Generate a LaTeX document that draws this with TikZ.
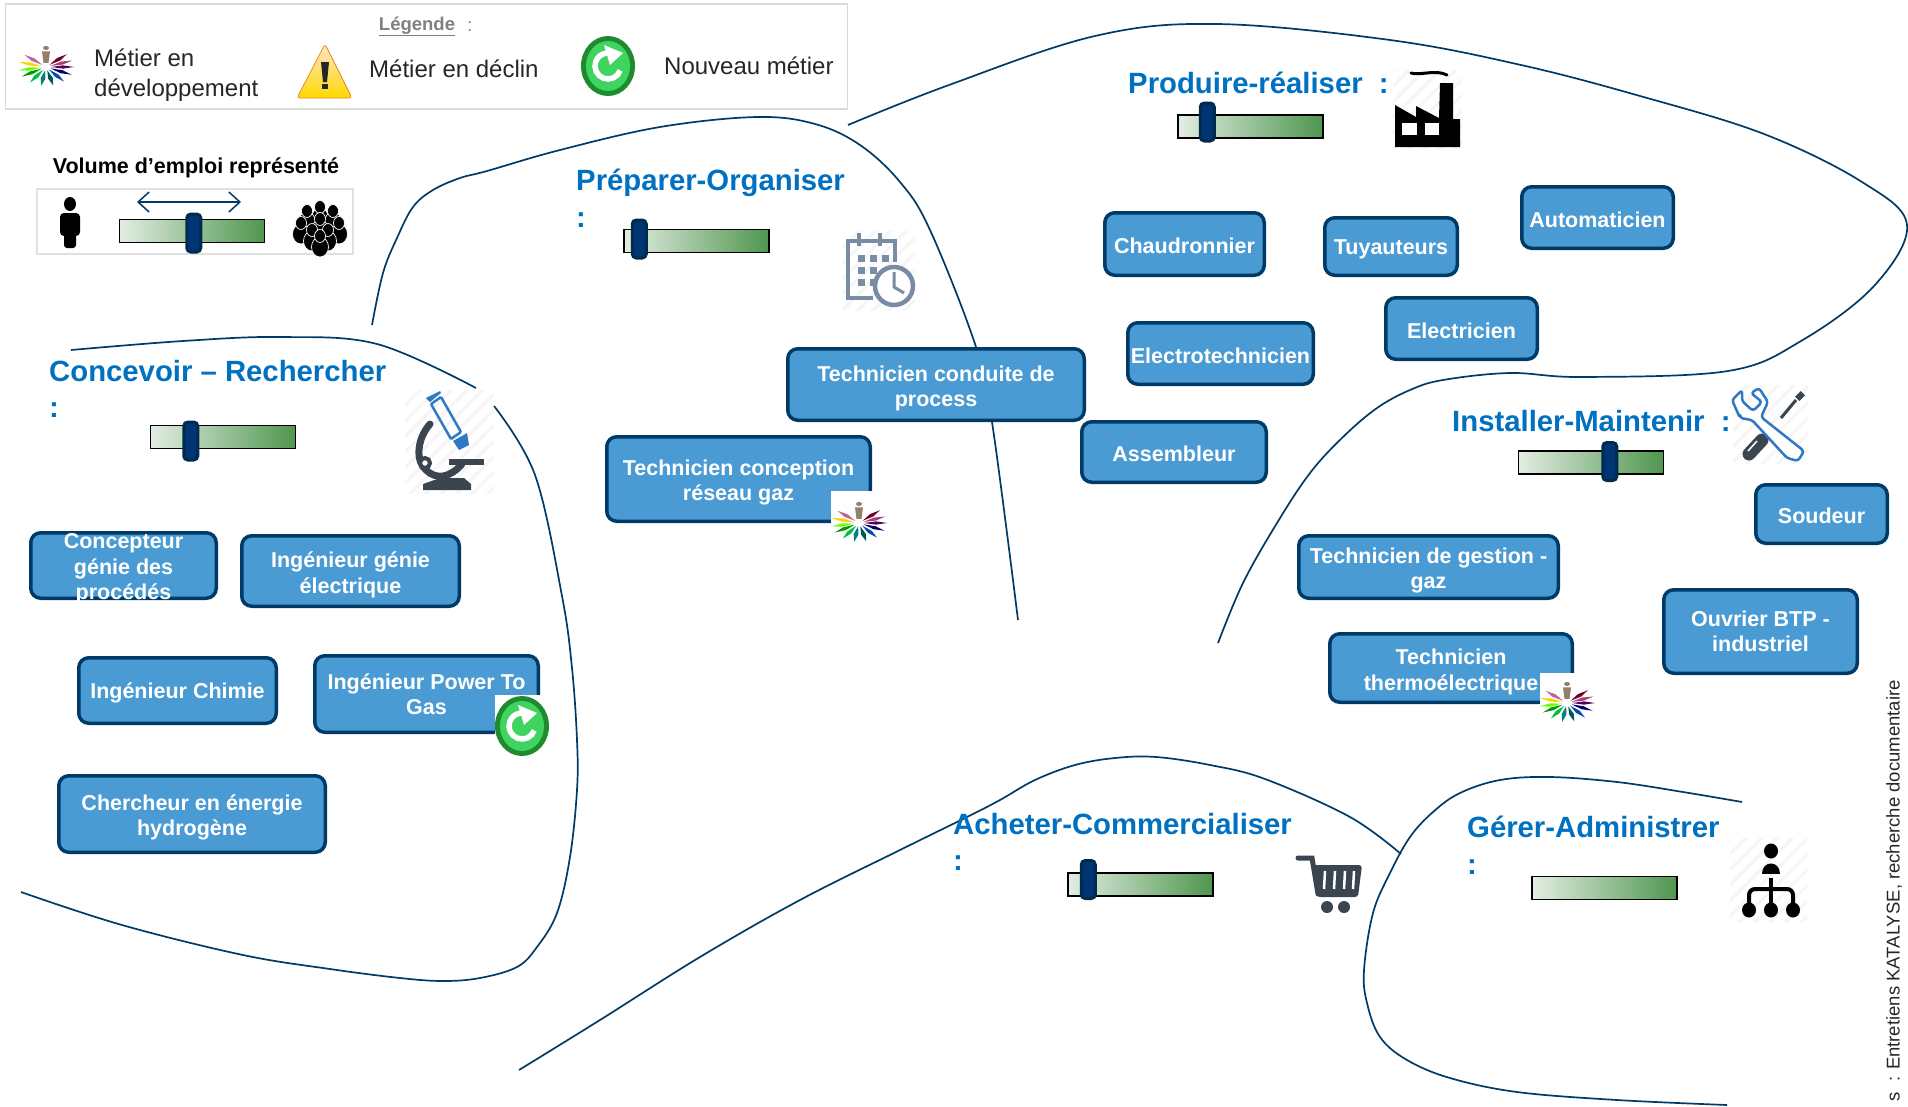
\documentclass[tikz,border=0pt]{standalone}
\usepackage{fontspec}
\setmainfont{Liberation Sans}
\usetikzlibrary{positioning,arrows.meta,patterns.meta}

\definecolor{navyline}{HTML}{003A66}
\definecolor{jobblue}{HTML}{4A9BD4}
\definecolor{titleblue}{HTML}{0070C0}
\definecolor{slate}{HTML}{3A4550}
\definecolor{calgray}{HTML}{7A8CA3}
\definecolor{scopeblue}{HTML}{2F78C4}
\definecolor{ringgreen}{HTML}{1E8B2E}
\definecolor{coregreen}{HTML}{3FD45F}
\definecolor{barlight}{HTML}{E3EDE3}
\definecolor{bardark}{HTML}{4F964F}

\newcommand{\jobstrut}{\vrule width 0pt height 23pt}

\tikzset{
	zoneline/.style={draw=navyline,line width=1.7pt},
	jobtext/.style={text=white,align=center,inner sep=0pt,font=\fontsize{21.5}{25.5}\selectfont\bfseries,execute at begin node={\vrule width 0pt height 20pt}},
	job/.style={jobtext,draw=navyline,fill=jobblue,line width=3.5pt,rounded corners=10pt},
	zonetitle/.style={text=titleblue,align=left,anchor=north west,inner sep=0pt,font=\fontsize{29.3}{36.5}\selectfont\bfseries},
	legendtext/.style={text=black!85,align=left,anchor=west,inner sep=0pt,font=\fontsize{24}{30}\selectfont},
	volumebar/.style={draw=black,line width=1.5pt,left color=barlight,right color=bardark,minimum width=145pt,minimum height=23pt,inner sep=0pt},
	volumegrip/.style={draw=navyline!75!black,fill=navyline!90!blue,line width=3pt,rounded corners=4pt,minimum width=14pt,minimum height=38pt,inner sep=0pt},
	iconhatch/.style={pattern={Lines[angle=45,distance=11pt,line width=3pt]},pattern color=black!4},
	iconback/.style={fill=white},
	growthicon/.pic={
		\begin{scope}[yscale=.68]
			\foreach \ang/\petal in {0/violet!70!black,24/blue!40!black,50/blue!40!teal,75/teal!70!black,100/teal,125/green!50!teal,150/green!60!black,170/green!60!yellow,195/yellow!70!orange,220/magenta!50!gray,318/purple!60!black,340/magenta!60!black} {
				\fill[\petal,rotate=-\ang] (5,0) -- (17,-2.4) -- (28,0) -- (17,2.4) -- cycle;
			}
			\fill[gray!70!brown] (0,-28) circle (3pt);
			\fill[gray!70!brown] (-4,-23) -- (4,-23) -- (2.5,-6) -- (-2.5,-6) -- cycle;
		\end{scope}
	},
	newicon/.pic={
		\fill[ringgreen] (0,0) ellipse (27pt and 30pt);
		\fill[coregreen] (0,0) ellipse (22pt and 25pt);
		\draw[white,line width=5.5pt] (20:13) arc (20:305:13);
		\fill[white] (-4,-21) -- (15,-13) -- (2,-1) -- cycle;
	}
}

\begin{document}
\begin{tikzpicture}[x=1pt,y=-1pt,on grid]
	\useasboundingbox (0,0) rectangle (1908,1106);

	% zones
	\draw[zoneline] plot[smooth,tension=.6] coordinates {(71,350) (183,341) (280,337) (377,344) (476,388)};
	\draw[zoneline] plot[smooth,tension=.6] coordinates {(494,406) (535,475) (562,596) (572,668) (577,740) (577,790) (570,857) (557,913) (537,947) (517,967) (480,978) (443,981) (400,978) (330,969) (243,955) (122,925) (21,892)};
	\draw[zoneline] plot[smooth,tension=.6] coordinates {(372,325) (383,273) (397,238) (413,207) (433,190) (460,178) (487,171) (560,150) (660,127) (757,117) (815,124) (860,145) (900,182) (930,230) (976,347) (992,422) (1018,620)};
	\draw[zoneline] plot[smooth,tension=.6] coordinates {(848,125) (949,85) (1095,36) (1217,24) (1390,40) (1521,65) (1640,96) (1764,134) (1862,182) (1907,225) (1874,286) (1801,341) (1728,371) (1582,377) (1510,373) (1443,380) (1410,390) (1377,408) (1343,437) (1310,473) (1277,523) (1243,583) (1218,643)};
	\draw[zoneline] plot[smooth,tension=.6] coordinates {(519,1070) (600,1020) (700,957) (800,900) (900,850) (967,817) (1000,800) (1035,780) (1075,765) (1115,758) (1156,757) (1210,765) (1265,779) (1350,817) (1401,854)};
	\draw[zoneline] plot[smooth,tension=.6] coordinates {(1742,802) (1683,792) (1617,782) (1550,777) (1500,780) (1460,793) (1433,812) (1410,837) (1390,873) (1373,913) (1364,970) (1367,1003) (1380,1037) (1407,1060) (1450,1078) (1517,1092) (1617,1100) (1727,1105)};

	% legend
	\node[draw=black!15,line width=1.5pt,minimum width=842pt,minimum height=105pt,inner sep=0pt] (legendbox) at (426.5,56.5) {};
	\node[text=black!50,inner sep=0pt,font=\fontsize{18.5}{22}\selectfont] (legendtitle) at (417,26.5) {\textbf{\underline{Légende}}};
	\node[text=black!50,inner sep=0pt,font=\fontsize{18.5}{22}\selectfont] (legendcolon) at (470,26.5) {:};
	\pic at (46,67) {growthicon};
	\node[legendtext] (legdev) at (94,75) {Métier en\\développement};
	\shade[top color=orange!20!white,bottom color=yellow!70!orange,rounded corners=3pt,draw=orange!70!brown,line width=.7pt] (325,44) -- (352,98) -- (297,98) -- cycle;
	\fill[black!85] (321,62) -- (329,62) -- (327,82) -- (323,82) -- cycle;
	\fill[black!85] (322,84) rectangle (328,89);
	\node[legendtext] (legdecline) at (369,69) {Métier en déclin};
	\pic at (608,66) {newicon};
	\node[legendtext] (legnew) at (664,66) {Nouveau métier};

	% volume
	\node[inner sep=0pt,font=\fontsize{21.5}{24}\selectfont\bfseries] (voltitle) at (196,168) {Volume d’emploi représenté};
	\node[draw=black!12,line width=1.5pt,minimum width=316pt,minimum height=65pt,inner sep=0pt] (volbox) at (195,221.5) {};
	\fill (70,204) ellipse (6pt and 7pt);
	\fill[rounded corners=4pt] (60,213) rectangle (80,236);
	\fill[rounded corners=3pt] (64,228) rectangle (76,248);
	\foreach \px/\py in {320/209,307/213,333/213,320/221,301/225,339/225,312/232,328/232,320/238} {
		\fill[black,draw=white,line width=.7pt] (\px,\py+9) ellipse (8.5pt and 10pt);
		\fill[black,draw=white,line width=.7pt] (\px,\py-2) ellipse (5.5pt and 6.5pt);
	}
	\node[volumebar] (barvol) at (192,231) {};
	\coordinate (arrowleft) at (137,202);
	\coordinate (arrowright) at (241,202);
	\draw[{Straight Barb[length=11pt,width=20pt]}-{Straight Barb[length=11pt,width=20pt]},draw=navyline,line width=1.5pt] (arrowleft) -- (arrowright);
	\node[volumegrip,right=66.5pt of barvol.west,yshift=-2pt] (gripvol) {};

	% jobs
	\node[job,minimum width=185.5pt,minimum height=65.5pt,label={[jobtext,yshift=-3.5pt]center:Concepteur\\génie des\\procédés}] (concepteur) at (123.5,565.5) {};
	\node[job,minimum width=217.5pt,minimum height=70.5pt] (genieelec) at (350.5,571) {\jobstrut Ingénieur génie\\électrique};
	\node[job,minimum width=197.5pt,minimum height=65.5pt] (chimie) at (177.5,690.5) {Ingénieur Chimie};
	\node[job,minimum width=223.5pt,minimum height=76.5pt] (powertogas) at (426.5,694) {Ingénieur Power To\\Gas};
	\node[job,minimum width=266.5pt,minimum height=76.5pt] (chercheur) at (192,814) {\jobstrut Chercheur en énergie\\hydrogène};
	\node[job,minimum width=296.5pt,minimum height=71.5pt] (conduite) at (936,384.5) {\jobstrut Technicien conduite de\\process};
	\node[job,minimum width=263.5pt,minimum height=84.5pt] (conception) at (738.5,479) {\jobstrut Technicien conception\\réseau gaz};
	\node[job,minimum width=159.5pt,minimum height=62.5pt] (chaudronnier) at (1184.5,244) {Chaudronnier};
	\node[job,minimum width=132.5pt,minimum height=57.5pt] (tuyauteurs) at (1391,246.5) {Tuyauteurs};
	\node[job,minimum width=151.5pt,minimum height=61.5pt] (automaticien) at (1597.5,217.5) {Automaticien};
	\node[job,minimum width=185.5pt,minimum height=61.5pt] (electrotech) at (1220.5,353.5) {Electrotechnicien};
	\node[job,minimum width=151.5pt,minimum height=61.5pt] (electricien) at (1461.5,328.5) {Electricien};
	\node[job,minimum width=184.5pt,minimum height=60.5pt] (assembleur) at (1174,452) {Assembleur};
	\node[job,minimum width=131.5pt,minimum height=58.5pt] (soudeur) at (1821.5,514) {Soudeur};
	\node[job,minimum width=259.5pt,minimum height=62.5pt] (gestiongaz) at (1428.5,567) {\jobstrut Technicien de gestion -\\gaz};
	\node[job,minimum width=242.5pt,minimum height=68.5pt] (thermo) at (1451,668) {\jobstrut Technicien\\thermoélectrique};
	\node[job,minimum width=193.5pt,minimum height=83.5pt] (ouvrier) at (1760.5,631.5) {Ouvrier BTP -\\industriel};

	% tags on the jobs
	\fill[iconback] (831,491) rectangle (885,542);
	\pic at (859,523) {growthicon};
	\fill[iconback] (1540,673) rectangle (1596,722);
	\pic at (1567,703) {growthicon};
	\fill[iconback] (495,695) rectangle (549,756);
	\pic at (522,726) {newicon};

	% zone titles and sliders
	\node[zonetitle] (titleconcevoir) at (49,360) {Concevoir – Rechercher\\:};
	\node[volumebar] (barconcevoir) at (223,437) {};
	\node[volumegrip,right=32.5pt of barconcevoir.west,yshift=-4pt] (gripconcevoir) {};
	\node[zonetitle] (titlepreparer) at (576,169) {Préparer-Organiser\\:};
	\node[volumebar] (barpreparer) at (696.5,241) {};
	\node[volumegrip,right=7.5pt of barpreparer.west,yshift=2pt] (grippreparer) {};
	\node[zonetitle] (titleproduire) at (1128,72) {Produire-réaliser~~:};
	\node[volumebar] (barproduire) at (1250.5,126.5) {};
	\node[volumegrip,right=21.5pt of barproduire.west,yshift=4.5pt] (gripproduire) {};
	\node[zonetitle] (titleinstaller) at (1452,410) {Installer-Maintenir~~:};
	\node[volumebar] (barinstaller) at (1591,462.5) {};
	\node[volumegrip,right=83.5pt of barinstaller.west,yshift=1pt] (gripinstaller) {};
	\node[zonetitle] (titleacheter) at (953,813) {Acheter-Commercialiser\\:};
	\node[volumebar] (baracheter) at (1140.5,884.5) {};
	\node[volumegrip,right=12.5pt of baracheter.west,yshift=5pt] (gripacheter) {};
	\node[zonetitle] (titlegerer) at (1467,816) {Gérer-Administrer\\:};
	\node[volumebar] (bargerer) at (1604.5,888) {};

	% microscope
	\fill[iconhatch] (405,390) rectangle (494,493);
	\draw[slate,line width=7pt,line cap=round] (430,424) .. controls (416,440) and (416,462) .. (426,470) .. controls (436,480) and (450,478) .. (462,464);
	\draw[slate,line width=4pt,fill=white] (425,463) circle (5pt);
	\fill[slate] (449,459) rectangle (484,465);
	\fill[slate] (440,478) -- (464,478) -- (471,484) -- (471,490) -- (423,490) -- (423,484) -- cycle;
	\draw[scopeblue,line width=2.5pt,rounded corners=1pt] (431,404) -- (441,397) -- (461,432) -- (451,439) -- cycle;
	\fill[scopeblue] (426,398) -- (440,391) -- (441,393) -- (430,402) -- cycle;
	\fill[scopeblue] (453,441) -- (467,433) -- (469,445) -- (459,450) -- cycle;

	% calendar and clock
	\fill[iconhatch] (843,231) rectangle (915,310);
	\draw[calgray,line width=4pt] (873,298) -- (848,298) -- (848,241) -- (895,241) -- (895,262);
	\foreach \px in {859,880} {
		\draw[calgray,line width=4pt] (\px,233) -- (\px,246);
	}
	\foreach \px/\py in {858/255,870/255,882/255,858/267,870/267,858/279,870/279} {
		\fill[calgray] (\px,\py) rectangle +(7,7);
	}
	\draw[calgray,line width=4.5pt,fill=white] (894,286) circle (19pt);
	\draw[calgray,line width=3pt] (894,272) -- (894,287) -- (904,293);

	% factory
	\fill[iconhatch] (1393,70) rectangle (1462,148);
	\fill[black] (1395,147) -- (1395,105) -- (1416,117) -- (1416,106) -- (1439,118) -- (1440,83) -- (1453,83) -- (1453,119) -- (1460,119) -- (1460,147) -- cycle;
	\fill[white] (1402,123) rectangle (1417,135);
	\fill[white] (1425,123) rectangle (1439,135);
	\draw[black,line width=3pt,line cap=round] (1411,73) .. controls (1420,76) and (1435,69) .. (1447,75);

	% tools
	\fill[iconhatch] (1733,385) rectangle (1808,463);
	\draw[slate,line width=3pt] (1781,418) -- (1796,400);
	\fill[slate,rotate around={45:(1800,396)}] (1796,393) rectangle (1804,399);
	\draw[slate,line width=13pt,line cap=round] (1749,454) -- (1762,440);
	\draw[white,line width=1.5pt] (1748,451) -- (1757,441);
	\draw[scopeblue,line width=2.5pt,fill=white,line join=round,rounded corners=3pt] (1742,390) -- (1742,401) -- (1753,411) -- (1762,402) -- (1751,393) -- (1759,388) -- (1768,402) -- (1761,417) -- (1804,451) -- (1798,461) -- (1787,458) -- (1752,420) -- (1740,418) -- (1740,418) -- (1732,400) -- cycle;

	% cart
	\draw[slate,line width=5pt,line cap=round] (1298,858) -- (1312,858) -- (1318,894);
	\fill[slate,rounded corners=3pt] (1312,865) -- (1362,865) -- (1358,897) -- (1317,897) -- cycle;
	\foreach \px in {1325,1335,1345,1354} {
		\draw[white,line width=2.5pt] (\px,871) -- (\px-1,889);
	}
	\fill[slate] (1327,907) circle (6pt);
	\fill[slate] (1344,907) circle (6pt);

	% org chart
	\fill[iconhatch] (1730,838) rectangle (1807,922);
	\fill (1771,851) ellipse (7pt and 7.5pt);
	\fill (1762,874) .. controls (1762,860) and (1780,860) .. (1780,874) -- cycle;
	\draw[line width=4pt] (1771,878) -- (1771,905);
	\draw[line width=4pt,rounded corners=6pt] (1749,905) -- (1749,889) -- (1793,889) -- (1793,905);
	\foreach \px in {1749,1771,1793} {
		\fill (\px,910) ellipse (7pt and 7.5pt);
	}

	% source
	\node[rotate=90,anchor=east,inner sep=0pt,text=black!85,font=\fontsize{18.5}{22}\selectfont] (source) at (1894,680) {s~~: Entretiens KATALYSE, recherche documentaire};
\end{tikzpicture}
\end{document}
